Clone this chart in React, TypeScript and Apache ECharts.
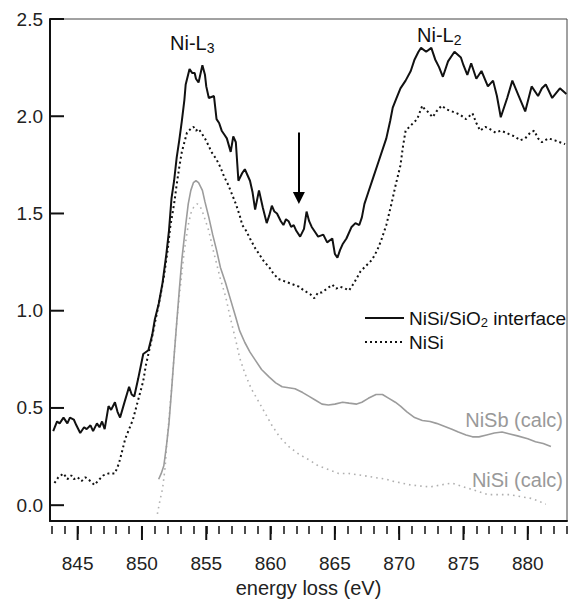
import React, { useEffect, useRef } from 'react';
import * as echarts from 'echarts';

const xTickLabels = [845, 850, 855, 860, 865, 870, 875, 880];
const yTickLabels = [0, 0.5, 1.0, 1.5, 2.0, 2.5];

// NiSi/SiO2 interface (solid black)
const interfaceData: [number, number][] = [
  [843.1, 0.36], [843.4, 0.41], [843.6, 0.40], [843.9, 0.43], [844.2, 0.40], [844.4, 0.43], [844.7, 0.42],
  [844.9, 0.39], [845.2, 0.35], [845.5, 0.38], [845.7, 0.37], [846.0, 0.39], [846.2, 0.36], [846.5, 0.40],
  [846.7, 0.38], [846.9, 0.41], [847.1, 0.37], [847.4, 0.49], [847.6, 0.47], [847.9, 0.51], [848.1, 0.46],
  [848.3, 0.43], [848.6, 0.50], [849.0, 0.59], [849.2, 0.55], [849.4, 0.54], [849.7, 0.63], [850.1, 0.76],
  [850.5, 0.78], [850.8, 0.86], [851.0, 0.94], [851.3, 1.02], [851.6, 1.13], [851.9, 1.28], [852.1, 1.40],
  [852.3, 1.57], [852.5, 1.66], [852.7, 1.78], [852.9, 1.87], [853.1, 1.97], [853.3, 2.08], [853.4, 2.16],
  [853.7, 2.24], [853.9, 2.22], [854.1, 2.22], [854.2, 2.19], [854.4, 2.17], [854.7, 2.26], [854.9, 2.21],
  [855.0, 2.15], [855.2, 2.09], [855.6, 2.10], [855.8, 1.98], [856.0, 1.96], [856.2, 1.92], [856.4, 1.90],
  [856.6, 1.88], [856.9, 1.81], [857.1, 1.89], [857.3, 1.86], [857.5, 1.66], [857.8, 1.70], [858.0, 1.72],
  [858.2, 1.69], [858.4, 1.66], [858.6, 1.60], [858.8, 1.51], [859.1, 1.61], [859.4, 1.52], [859.7, 1.44],
  [859.9, 1.48], [860.1, 1.53], [860.3, 1.50], [860.5, 1.49], [860.8, 1.45], [861.0, 1.43], [861.2, 1.46],
  [861.4, 1.45], [861.6, 1.42], [861.8, 1.43], [862.0, 1.40], [862.3, 1.37], [862.6, 1.41], [862.8, 1.50],
  [863.0, 1.45], [863.2, 1.42], [863.5, 1.39], [863.7, 1.37], [864.1, 1.38], [864.4, 1.34], [864.8, 1.36],
  [865.0, 1.28], [865.2, 1.26], [865.4, 1.30], [865.6, 1.33], [865.9, 1.36], [866.3, 1.42], [866.6, 1.44],
  [866.9, 1.43], [867.1, 1.47], [867.3, 1.54], [867.6, 1.60], [868.0, 1.68], [868.4, 1.76], [869.0, 1.88],
  [869.3, 1.97], [869.5, 2.04], [869.8, 2.09], [870.1, 2.14], [870.5, 2.18], [870.9, 2.23], [871.2, 2.29],
  [871.5, 2.33], [871.7, 2.35], [872.1, 2.33], [872.5, 2.35], [872.8, 2.29], [873.1, 2.25], [873.4, 2.20],
  [873.8, 2.28], [874.3, 2.33], [874.8, 2.30], [875.0, 2.26], [875.3, 2.21], [875.6, 2.27], [876.0, 2.19],
  [876.4, 2.23], [876.9, 2.15], [877.3, 2.18], [877.6, 2.10], [877.9, 1.99], [878.4, 2.09], [878.8, 2.18],
  [879.3, 2.10], [879.8, 2.02], [880.3, 2.15], [880.8, 2.10], [881.1, 2.14], [881.4, 2.16], [881.9, 2.09],
  [882.5, 2.14], [883.0, 2.11],
];

// NiSi (dotted black)
const nisiData: [number, number][] = [
  [843.2, 0.09], [843.5, 0.12], [843.9, 0.14], [844.2, 0.11], [844.5, 0.13], [844.7, 0.11], [845.0, 0.12],
  [845.3, 0.10], [845.6, 0.12], [846.0, 0.10], [846.3, 0.08], [846.7, 0.11], [847.0, 0.13], [847.4, 0.14],
  [847.9, 0.14], [848.2, 0.19], [848.4, 0.24], [848.7, 0.32], [849.0, 0.37], [849.3, 0.42], [849.5, 0.47],
  [849.7, 0.52], [850.1, 0.62], [850.3, 0.70], [850.7, 0.82], [851.0, 0.92], [851.4, 1.05], [851.7, 1.16],
  [852.0, 1.30], [852.2, 1.42], [852.5, 1.54], [852.7, 1.64], [852.9, 1.73], [853.1, 1.81], [853.3, 1.86],
  [853.5, 1.91], [853.8, 1.93], [854.0, 1.94], [854.2, 1.92], [854.4, 1.93], [854.7, 1.90], [854.9, 1.88],
  [855.2, 1.84], [855.4, 1.81], [855.8, 1.77], [856.1, 1.73], [856.4, 1.68], [856.7, 1.64], [857.0, 1.59],
  [857.3, 1.54], [857.6, 1.48], [857.8, 1.43], [858.1, 1.40], [858.4, 1.36], [858.8, 1.31], [859.1, 1.28],
  [859.5, 1.24], [859.9, 1.21], [860.2, 1.18], [860.6, 1.15], [861.0, 1.14], [861.4, 1.13], [861.8, 1.12],
  [862.2, 1.11], [862.6, 1.09], [863.1, 1.07], [863.4, 1.05], [863.7, 1.08], [864.0, 1.08], [864.4, 1.10],
  [864.8, 1.12], [865.1, 1.10], [865.4, 1.11], [865.8, 1.10], [866.1, 1.09], [866.5, 1.13], [867.0, 1.19],
  [867.3, 1.21], [867.9, 1.25], [868.3, 1.30], [868.6, 1.35], [869.0, 1.43], [869.4, 1.54], [869.7, 1.63],
  [870.1, 1.74], [870.3, 1.84], [870.5, 1.92], [870.8, 1.94], [871.1, 1.96], [871.4, 1.98], [871.8, 2.05],
  [872.0, 2.03], [872.2, 2.02], [872.6, 1.99], [872.9, 2.02], [873.3, 2.05], [873.7, 2.03], [874.1, 2.02],
  [874.5, 2.01], [874.8, 2.00], [875.2, 1.98], [875.7, 2.01], [876.0, 1.96], [876.3, 1.92], [876.7, 1.94],
  [877.0, 1.93], [877.5, 1.91], [877.9, 1.92], [878.3, 1.91], [878.6, 1.90], [879.0, 1.89], [879.4, 1.87],
  [879.8, 1.88], [880.2, 1.91], [880.5, 1.92], [880.8, 1.88], [881.1, 1.86], [881.6, 1.88], [882.1, 1.87],
  [882.5, 1.86], [882.9, 1.85],
];

// NiSb (calc) (solid grey)
const nisbCalcData: [number, number][] = [
  [851.3, 0.11], [851.5, 0.14], [851.7, 0.18], [851.9, 0.28], [852.1, 0.40], [852.3, 0.57], [852.5, 0.75],
  [852.7, 0.92], [852.9, 1.09], [853.1, 1.25], [853.4, 1.43], [853.6, 1.54], [853.8, 1.61], [854.0, 1.65],
  [854.2, 1.66], [854.4, 1.65], [854.7, 1.61], [854.9, 1.55], [855.2, 1.47], [855.5, 1.38], [855.8, 1.30],
  [856.1, 1.21], [856.5, 1.13], [856.9, 1.04], [857.3, 0.95], [857.6, 0.88], [858.0, 0.82], [858.4, 0.77],
  [858.8, 0.73], [859.3, 0.68], [859.9, 0.64], [860.4, 0.61], [860.9, 0.59], [861.4, 0.585], [861.9, 0.58],
  [862.5, 0.56], [863.0, 0.54], [863.5, 0.52], [864.0, 0.50], [864.5, 0.495], [865.0, 0.50], [865.6, 0.51],
  [866.1, 0.505], [866.7, 0.50], [867.1, 0.51], [867.6, 0.53], [868.2, 0.55], [868.7, 0.55], [869.2, 0.53],
  [869.7, 0.51], [870.1, 0.49], [870.6, 0.46], [871.2, 0.43], [871.8, 0.415], [872.4, 0.41], [872.9, 0.40],
  [873.5, 0.385], [874.1, 0.37], [874.6, 0.355], [875.2, 0.34], [875.7, 0.33], [876.2, 0.33], [876.8, 0.34],
  [877.4, 0.35], [878.0, 0.355], [878.6, 0.345], [879.2, 0.335], [880.0, 0.32], [880.6, 0.305], [881.2, 0.295],
  [881.8, 0.28],
];

// NiSi (calc) (dotted grey)
const nisiCalcData: [number, number][] = [
  [851.2, -0.07], [851.4, 0.0], [851.6, 0.06], [851.8, 0.17], [851.9, 0.27], [852.1, 0.42], [852.3, 0.58],
  [852.5, 0.75], [852.7, 0.92], [852.9, 1.06], [853.1, 1.18], [853.3, 1.30], [853.6, 1.43], [853.8, 1.49],
  [854.0, 1.52], [854.3, 1.54], [854.5, 1.53], [854.7, 1.50], [854.9, 1.46], [855.2, 1.40], [855.5, 1.31],
  [855.8, 1.23], [856.1, 1.15], [856.5, 1.06], [856.9, 0.94], [857.3, 0.83], [857.6, 0.74], [858.0, 0.66],
  [858.5, 0.58], [859.1, 0.51], [859.6, 0.45], [860.1, 0.39], [860.7, 0.33], [861.4, 0.28], [862.2, 0.24],
  [863.0, 0.21], [863.7, 0.18], [864.5, 0.16], [865.3, 0.14], [866.1, 0.14], [867.1, 0.13], [868.0, 0.12],
  [869.0, 0.11], [869.5, 0.10], [870.2, 0.09], [870.9, 0.08], [871.6, 0.075], [872.4, 0.07], [873.2, 0.08],
  [874.1, 0.09], [874.8, 0.075], [875.5, 0.06], [876.2, 0.045], [876.9, 0.03], [877.7, 0.03], [878.6, 0.03],
  [879.4, 0.02], [880.3, 0.01], [880.9, -0.005], [881.4, -0.02],
];

// arrow: x position, start value, end value
const arrowX = 862.2;
const arrowFrom = 1.91;
const arrowTo = 1.57;

const FONT = 'Liberation Sans, Arial, Helvetica, sans-serif';

// plot frame (pixels) and axis ranges
const PLOT_LEFT = 50;
const PLOT_RIGHT = 567;
const PLOT_TOP = 19;
const PLOT_BOTTOM = 526;
const W = 568;
const H = 603;
const X_MIN = 842.85;
const X_MAX = 883.05;
const Y_MIN = -0.107;
const Y_MAX = 2.5;
const MAJOR_TICK_LEN = 14;

// same linear mapping as the main grid
const xPx = (v: number) => PLOT_LEFT + ((v - X_MIN) / (X_MAX - X_MIN)) * (PLOT_RIGHT - PLOT_LEFT);
const yPx = (v: number) => PLOT_BOTTOM - ((v - Y_MIN) / (Y_MAX - Y_MIN)) * (PLOT_BOTTOM - PLOT_TOP);

const TICK_STYLE = { color: '#111', width: 1.5 };

export default function App() {
  const ref = useRef<HTMLDivElement>(null);
  useEffect(() => {
    const chart = echarts.init(ref.current!, null, { renderer: 'svg' });
    const xMajMin = xTickLabels[0];
    const xMajMax = xTickLabels[xTickLabels.length - 1];
    const xMinMin = Math.ceil(X_MIN);
    const xMinMax = Math.floor(X_MAX);
    const yMajMin = yTickLabels[0];
    const yMajMax = yTickLabels[yTickLabels.length - 1];
    const hiddenAxis = { show: false };

    // major tick marks as thin rects
    const tickRects: any[] = [];
    xTickLabels.forEach((v, i) => {
      tickRects.push({
        id: `xt${i}`, type: 'rect', silent: true, z: 100,
        shape: { x: xPx(v) - 1, y: PLOT_BOTTOM, width: 2, height: MAJOR_TICK_LEN },
        style: { fill: '#111' },
      });
    });
    yTickLabels.forEach((v, i) => {
      tickRects.push({
        id: `yt${i}`, type: 'rect', silent: true, z: 100,
        shape: { x: PLOT_LEFT, y: yPx(v) - 1, width: MAJOR_TICK_LEN, height: 2 },
        style: { fill: '#111' },
      });
    });

    const graphics: any[] = [
      {
        id: 'l3', type: 'text', left: 170, top: 31,
        style: {
          text: 'Ni-L{sub|3}', font: `20px ${FONT}`, fill: '#111',
          rich: { sub: { fontSize: 14, fontFamily: FONT, fill: '#111', verticalAlign: 'bottom', lineHeight: 14 } },
          lineHeight: 24,
        },
      },
      {
        id: 'l2', type: 'text', left: 417, top: 23,
        style: {
          text: 'Ni-L{sub|2}', font: `20px ${FONT}`, fill: '#111',
          rich: { sub: { fontSize: 14, fontFamily: FONT, fill: '#111', verticalAlign: 'bottom', lineHeight: 14 } },
          lineHeight: 24,
        },
      },
      { id: 'nisb', type: 'text', right: 5, top: 410, style: { text: 'NiSb (calc)', font: `20px ${FONT}`, fill: '#999' } },
      { id: 'nisic', type: 'text', right: 5, top: 470, style: { text: 'NiSi (calc)', font: `20px ${FONT}`, fill: '#999' } },
      ...tickRects,
    ];

    const option: any = {
      animation: false,
      backgroundColor: '#fff',
      textStyle: { fontFamily: FONT },
      grid: [
        // main plot
        { left: PLOT_LEFT, right: W - PLOT_RIGHT, top: PLOT_TOP, bottom: H - PLOT_BOTTOM, show: true, borderColor: '#444', borderWidth: 1 },
        // major x labels (845..880)
        { left: xPx(xMajMin), right: W - xPx(xMajMax), top: PLOT_TOP, bottom: H - PLOT_BOTTOM },
        // minor x ticks (every 1 eV)
        { left: xPx(xMinMin), right: W - xPx(xMinMax), top: PLOT_TOP, bottom: H - PLOT_BOTTOM },
        // y labels (0..2.5)
        { left: PLOT_LEFT, right: W - PLOT_RIGHT, top: yPx(yMajMax), bottom: H - yPx(yMajMin) },
      ],
      xAxis: [
        {
          gridIndex: 0, type: 'value', min: X_MIN, max: X_MAX, position: 'bottom',
          name: 'energy loss (eV)', nameLocation: 'middle', nameGap: 57,
          nameTextStyle: { fontSize: 20, color: '#222', fontFamily: FONT },
          axisLine: { show: true, onZero: false, lineStyle: { color: '#111', width: 2 } },
          axisTick: { show: false }, axisLabel: { show: false }, splitLine: { show: false },
        },
        {
          gridIndex: 1, type: 'value', min: xMajMin, max: xMajMax, interval: 5, position: 'bottom',
          axisLine: { show: false, onZero: false },
          axisTick: { show: false },
          axisLabel: { show: true, margin: 28, fontSize: 19, color: '#222', fontFamily: FONT },
          splitLine: { show: false },
        },
        {
          gridIndex: 2, type: 'value', min: xMinMin, max: xMinMax, interval: 1, position: 'bottom',
          axisLine: { show: false, onZero: false },
          axisTick: { show: true, inside: false, length: 8, lineStyle: TICK_STYLE },
          axisLabel: { show: false }, splitLine: { show: false },
        },
        { gridIndex: 3, type: 'value', ...hiddenAxis },
      ],
      yAxis: [
        {
          gridIndex: 0, type: 'value', min: Y_MIN, max: Y_MAX, position: 'left',
          axisLine: { show: true, onZero: false, lineStyle: { color: '#111', width: 2 } },
          axisTick: { show: false }, axisLabel: { show: false }, splitLine: { show: false },
        },
        { gridIndex: 1, type: 'value', ...hiddenAxis },
        { gridIndex: 2, type: 'value', ...hiddenAxis },
        {
          gridIndex: 3, type: 'value', min: yMajMin, max: yMajMax, interval: 0.5, position: 'left',
          axisLine: { show: false, onZero: false },
          axisTick: { show: false },
          axisLabel: { formatter: (v: number) => v.toFixed(1), margin: 7, fontSize: 19, color: '#222', fontFamily: FONT },
          splitLine: { show: false },
        },
      ],
      legend: {
        data: ['NiSi/SiO2 interface', 'NiSi'],
        orient: 'vertical', left: 359, top: 302,
        itemWidth: 39, itemHeight: 14, itemGap: 2,
        itemStyle: { color: 'rgba(0,0,0,0)', borderColor: 'rgba(0,0,0,0)', borderWidth: 0, opacity: 0 },
        formatter: (name: string) => (name === 'NiSi/SiO2 interface' ? 'NiSi/SiO{sub|2} interface' : name),
        textStyle: {
          fontSize: 19, color: '#111', fontFamily: FONT, lineHeight: 22,
          rich: { sub: { fontSize: 13, fontFamily: FONT, color: '#111', verticalAlign: 'bottom', lineHeight: 13 } },
        },
      },
      graphic: graphics,
      series: [
        {
          name: 'NiSi (calc)', type: 'line', data: nisiCalcData, symbol: 'none', silent: true,
          lineStyle: { color: '#b0b0b0', width: 1.6, type: [1.6, 4] },
        },
        {
          name: 'NiSb (calc)', type: 'line', data: nisbCalcData, symbol: 'none', silent: true,
          lineStyle: { color: '#9c9c9c', width: 1.6 },
        },
        {
          name: 'NiSi', type: 'line', data: nisiData, symbol: 'none', silent: true,
          itemStyle: { color: '#111' },
          lineStyle: { color: '#111', width: 2, type: [2, 3] },
        },
        {
          name: 'NiSi/SiO2 interface', type: 'line', data: interfaceData, symbol: 'none', silent: true,
          itemStyle: { color: '#111' },
          lineStyle: { color: '#111', width: 2 },
          markLine: {
            silent: true, symbol: ['none', 'triangle'], symbolSize: 12,
            label: { show: false },
            lineStyle: { color: '#000', width: 2, type: 'solid' },
            data: [[{ coord: [arrowX, arrowFrom] }, { coord: [arrowX, arrowTo] }]],
          },
        },
      ],
    };
    chart.setOption(option);
    return () => chart.dispose();
  }, []);
  return (
    <div
      ref={ref}
      style={{ position: 'fixed', left: 0, top: 0, width: W, height: H, background: '#fff' }}
    />
  );
}
